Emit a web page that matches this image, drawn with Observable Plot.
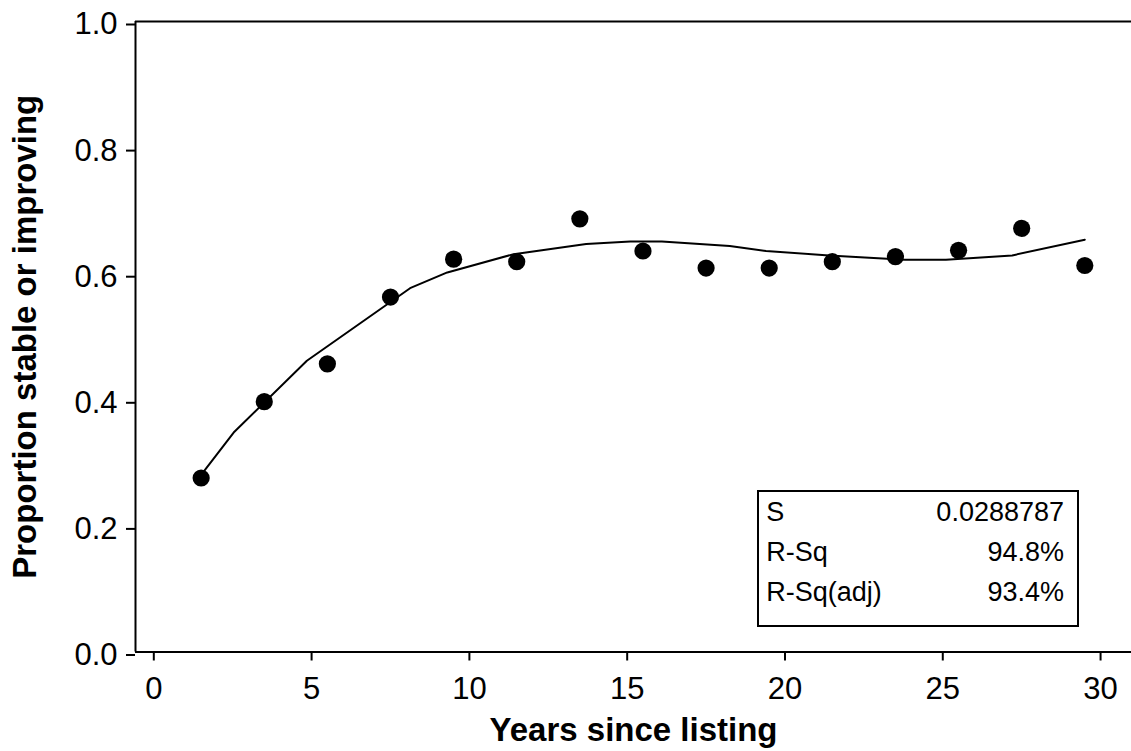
<!DOCTYPE html>
<html><head><meta charset="utf-8">
<script src="https://cdn.jsdelivr.net/npm/d3@7"></script>
<script src="https://cdn.jsdelivr.net/npm/@observablehq/plot@0.6"></script>
<style>
html,body{margin:0;padding:0;background:#fff;}
#wrap{position:relative;width:1131px;height:751px;overflow:hidden;font-family:"Liberation Sans",Arial,sans-serif;}
#wrap svg{display:block;}
#stats{position:absolute;left:757px;top:490px;width:322px;height:137px;box-sizing:border-box;border:2px solid #000;background:#fff;font-size:27px;line-height:40px;padding:0.4px 13px 0 7.3px;color:#000;}
.row{display:flex;justify-content:space-between;white-space:nowrap;}
</style></head><body><div id="wrap"></div>
<script>
// Observed data: years since listing (bin midpoints) and proportion stable or improving
const years = [1.5, 3.5, 5.5, 7.5, 9.5, 11.5, 13.5, 15.5, 17.5, 19.5, 21.5, 23.5, 25.5, 27.5, 29.5];
const proportion = [0.276, 0.397, 0.457, 0.563, 0.623, 0.619, 0.687, 0.636, 0.609, 0.609, 0.619, 0.627, 0.637, 0.672, 0.613];

// Fitted (cubic) line vertices
const fitYears = [1.5, 2.53, 4.85, 8.12, 9.3, 11.4, 13.7, 15.1, 16.1, 18.25, 19.4, 21.4, 23.8, 25.1, 27.2, 29.5];
const fitValues = [0.281, 0.348, 0.462, 0.577, 0.602, 0.631, 0.647, 0.651, 0.651, 0.644, 0.636, 0.629, 0.622, 0.622, 0.629, 0.654];

// Axis ticks
const xTicks = [0, 5, 10, 15, 20, 25, 30];
const yTicks = [0.0, 0.2, 0.4, 0.6, 0.8, 1.0];
const xDomain = [-0.58, 30.98];
const yDomain = [0, 1];

// Fit statistics
const statLabels = ["S", "R-Sq", "R-Sq(adj)"];
const statValues = ["0.0288787", "94.8%", "93.4%"];

const xLabel = "Years since listing";
const yLabel = "Proportion stable or improving";

const points = years.map((x, i) => ({x, y: proportion[i]}));
const fit = fitYears.map((x, i) => ({x, y: fitValues[i]}));

const chart = Plot.plot({
  width: 1131,
  height: 751,
  marginLeft: 135,
  marginRight: 0,
  marginTop: 21,
  marginBottom: 99.5,
  style: {fontFamily: '"Liberation Sans", Arial, sans-serif', color: "#000", background: "#fff", overflow: "visible"},
  x: {domain: xDomain},
  y: {domain: yDomain},
  marks: [
    Plot.axisX({ticks: xTicks, tickSize: 9, tickPadding: 16, fontSize: 31, strokeWidth: 2, label: null, tickFormat: d => String(d)}),
    Plot.axisY({ticks: yTicks, tickSize: 9, tickPadding: 9, fontSize: 31, strokeWidth: 2, dy: 3, label: null, tickFormat: d => d.toFixed(1)}),
    Plot.ruleY([yDomain[0]], {stroke: "#000", strokeWidth: 2}),
    Plot.ruleY([yDomain[1]], {stroke: "#000", strokeWidth: 2}),
    Plot.ruleX([xDomain[0]], {stroke: "#000", strokeWidth: 2}),
    Plot.line(fit, {x: "x", y: "y", stroke: "#000", strokeWidth: 2}),
    Plot.dot(points, {x: "x", y: "y", r: 8.6, fill: "#000", stroke: "none"}),
    Plot.text([xLabel], {frameAnchor: "bottom", lineAnchor: "bottom", textAnchor: "middle", dy: 88.5, fontSize: 33, fontWeight: "bold", fill: "#000"}),
    Plot.text([yLabel], {frameAnchor: "left", lineAnchor: "bottom", textAnchor: "middle", rotate: -90, dx: -99.5, fontSize: 33, fontWeight: "bold", fill: "#000"})
  ]
});

const wrap = document.getElementById("wrap");
wrap.appendChild(chart);

const box = document.createElement("div");
box.id = "stats";
statLabels.forEach((lab, i) => {
  const row = document.createElement("div");
  row.className = "row";
  const a = document.createElement("span"); a.textContent = lab;
  const b = document.createElement("span"); b.textContent = statValues[i];
  row.appendChild(a); row.appendChild(b);
  box.appendChild(row);
});
wrap.appendChild(box);
</script>
</body></html>
